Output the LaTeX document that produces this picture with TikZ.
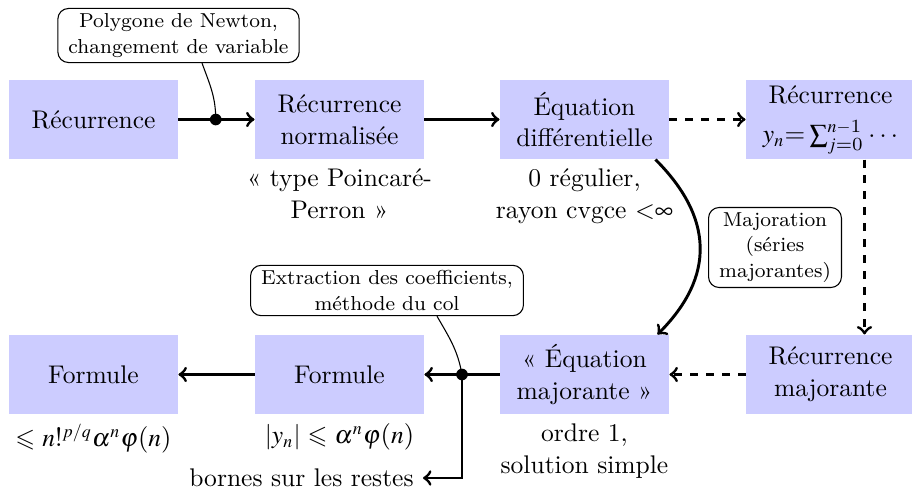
\documentclass[tikz,border=0pt]{standalone}
\usepackage{amssymb}
\DeclareSymbolFont{letters}{OML}{ztmcm}{m}{it}
\DeclareSymbolFont{symbols}{OMS}{ztmcm}{m}{n}
\DeclareSymbolFont{largesymbols}{OMX}{ztmcm}{m}{n}
\usetikzlibrary{calc}
\begin{document}
\begin{tikzpicture}[x=0.376pt,y=0.376pt,
  font=\fontsize{9.6}{12}\selectfont,
  box/.style={fill=blue!20, minimum width=63.5pt, minimum height=29.7pt, inner sep=1pt, align=center},
  arr/.style={->, line width=1.1pt},
  darr/.style={->, line width=1.1pt, dashed},
  callout/.style={draw, rounded corners=4pt, line width=0.4pt, font=\fontsize{7.6}{9.5}\selectfont, align=center, inner xsep=4pt, inner ysep=2pt},
  lbl/.style={align=center, anchor=north},
  link/.style={line width=0.4pt}]
\useasboundingbox (0,0) rectangle (912,-491);
% boxes
\node[box] (B1) at (93.5,-119.5) {Récurrence};
\node[box] (B2) at (339.5,-119.5) {Récurrence\\normalisée};
\node[box] (B3) at (584.5,-119.5) {Équation\\différentielle};
\node[box] (B4) at (830.5,-119.5) {Récurrence\\[3pt]$y_n{=}\sum_{j=0}^{n-1}\cdots$};
\node[box] (C1) at (93.5,-374.5) {Formule};
\node[box] (C2) at (339.5,-374.5) {Formule};
\node[box] (C3) at (584.5,-374.5) {« Équation\\majorante »};
\node[box] (C4) at (830.5,-374.5) {Récurrence\\majorante};
% labels
\node[lbl] (L2) at (B2.south) {« type Poincaré-\\Perron »};
\node[lbl] (L3) at (B3.south) {0 régulier,\\rayon cvgce $\mathord{<}\infty$};
\node[lbl] (L5) at (C1.south) {$\leqslant n!^{p/q}\alpha^n\varphi(n)$};
\node[lbl] (L6) at (C2.south) {$|y_n| \leqslant \alpha^n\varphi(n)$};
\node[lbl] (L7) at (C3.south) {ordre 1,\\solution simple};
\node[anchor=east] (BR) at (423,-478) {bornes sur les restes};
% callouts
\node[callout] (K1) at (178.5,-35.5) {Polygone de Newton,\\changement de variable};
\node[callout] (K2) at (387,-290.5) {Extraction des coefficients,\\méthode du col};
\node[callout] (K3) at (775,-247.5) {Majoration\\(séries\\majorantes)};
% junctions
\coordinate (d1) at ($(B1.east)!0.49!(B2.west)$);
\coordinate (d2) at ($(C3.west)!0.5!(C2.east)$);
% connectors
\draw[arr] (B1) -- (B2);
\draw[arr] (B2) -- (B3);
\draw[darr] (B3) -- (B4);
\draw[darr] ($(B4.south)+(34,0)$) -- ($(C4.north)+(34,0)$);
\draw[darr] (C4) -- (C3);
\draw[arr] (C3) -- (C2);
\draw[arr] (C2) -- (C1);
\draw[arr] (d2) |- (BR);
\draw[arr] ($(B3.south east)+(-14,0)$) .. controls +(58,-58) and +(58,58) .. ($(C3.north east)+(-12,0)$);
\draw[link] ($(K1.south)+(23.5,0)$) to[out=-70,in=90] (d1);
\draw[link] ($(K2.south)+(50,0)$) to[out=-60,in=100] (d2);
\fill (d1) circle[radius=2.2pt];
\fill (d2) circle[radius=2.2pt];
\end{tikzpicture}
\end{document}
